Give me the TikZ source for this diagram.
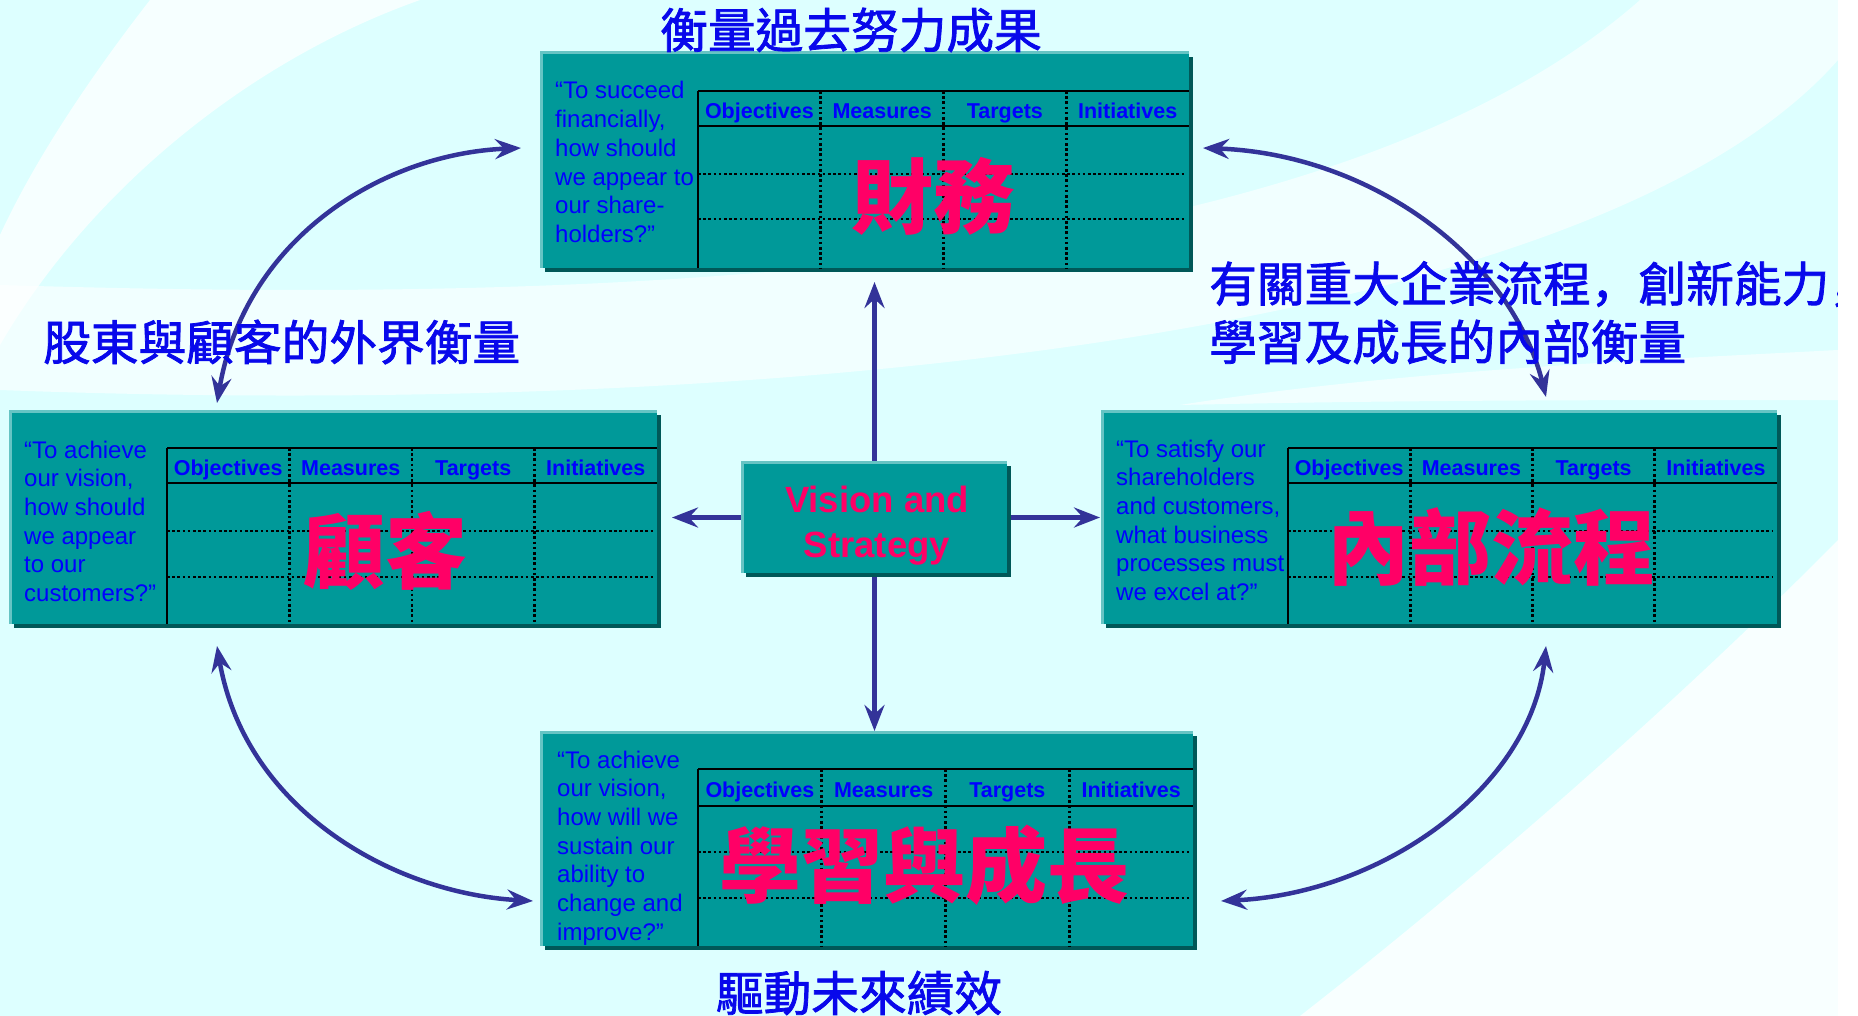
\documentclass[tikz,border=0pt]{standalone}
\usepackage{fontspec}
\setmainfont{Liberation Sans}
\newfontfamily\cjk{Noto Sans CJK TC}
\newfontfamily\cjkt{Noto Sans CJK TC}[FakeBold=1.6]
\newfontfamily\cjksc{Noto Sans CJK SC}[FakeBold=1.6]
\usetikzlibrary{arrows.meta}
\definecolor{bgc}{RGB}{221,255,255}
\definecolor{panelc}{RGB}{0,153,153}
\definecolor{panellight}{RGB}{102,196,196}
\definecolor{paneldark}{RGB}{0,88,88}
\definecolor{qblue}{RGB}{0,0,255}
\definecolor{tblue}{RGB}{8,8,235}
\definecolor{hred}{RGB}{255,0,102}
\definecolor{arrc}{RGB}{51,51,153}
\tikzset{
  panel/.style={fill=panelc, inner sep=0pt, outer sep=0pt, anchor=north west},
  tabline/.style={draw=black, line width=2.8pt},
  dotline/.style={draw=black, line width=2.6pt, dash pattern=on 2.6pt off 2.6pt},
  hdr/.style={font=\bfseries\fontsize{21.5}{24}\selectfont, text=qblue, inner sep=0pt, anchor=base},
  quotetext/.style={font=\fontsize{24}{28.7}\selectfont, text=qblue, inner sep=0pt, anchor=base west},
  bigred/.style={font=\cjk\bfseries\fontsize{82}{82}\selectfont, text=hred, inner sep=0pt},
  cjktitle/.style={font=\cjkt\fontsize{47.7}{47.7}\selectfont, text=tblue, inner sep=0pt},
  tipstyle/.tip={Stealth[length=26pt,width=20pt,inset=9pt]},
  sarrow/.style={draw=arrc, line width=4.5pt, -tipstyle},
  carrow/.style={draw=arrc, line width=4.5pt, tipstyle-tipstyle},
}
\newcommand\bscpanel[5]{% name, x, y, w, h
  \fill[paneldark] (#2+4,#3+4) rectangle ++(#4,#5);
  \node[panel, minimum width=#4pt, minimum height=#5pt] (#1) at (#2,#3) {};
  \draw[panellight, line width=3pt] (#1.south west) -- (#1.north west) -- (#1.north east);
}
\newcommand\bsctable[8]{% prefix, L, R, top, hdrbot, bottom, dot1, dot2
  \pgfmathsetmacro\colw{(#3-#2)/4}
  \foreach \k in {1,2,3} \draw[dotline] ({#2+\k*\colw},#4) -- ({#2+\k*\colw},#6);
  \draw[dotline] (#2,#7) -- (#3-4,#7);
  \draw[dotline] (#2,#8) -- (#3-4,#8);
  \draw[tabline] (#2,#4) -- (#3,#4);
  \draw[tabline] (#2,#5) -- (#3,#5);
  \draw[tabline] (#2,#4) -- (#2,#6);
  \foreach \t [count=\k from 0] in {Objectives,Measures,Targets,Initiatives}
    \node[hdr] (#1-h\k) at ({#2+(\k+0.5)*\colw},{(#4+#5)/2+10}) {\t};
}
\begin{document}
\begin{tikzpicture}[x=1pt,y=-1pt]
\useasboundingbox (0,0) rectangle (1858,1016);
% background
\fill[bgc] (0,0) rectangle (1838,1016);
\fill[white, opacity=.75] (150,0) .. controls (80,90) and (30,170) .. (0,235) -- (0,345) .. controls (90,190) and (250,60) .. (420,0) -- cycle;
\fill[white, opacity=.6] (0,285) .. controls (500,300) and (1300,300) .. (1640,0) -- (1838,0) -- (1838,60) .. controls (1600,330) and (800,420) .. (0,390) -- cycle;
\fill[white, opacity=.6] (1180,405) .. controls (1400,370) and (1650,360) .. (1838,350) -- (1838,400) .. controls (1600,400) and (1400,400) .. (1180,405) -- cycle;
\fill[white, opacity=.8] (1300,1016) .. controls (1500,860) and (1700,680) .. (1838,540) -- (1838,1016) -- cycle;

% curved connectors
\coordinate (tlA) at (521,148);
\coordinate (tlB) at (217,403);
\coordinate (trA) at (1203,148);
\coordinate (trB) at (1546,397);
\coordinate (blA) at (217,646);
\coordinate (blB) at (533,901);
\coordinate (brA) at (1546,646);
\coordinate (brB) at (1221,901);
\draw[carrow] (tlA) .. controls (380,154) and (245,240) .. (tlB);
\draw[carrow] (trA) .. controls (1370,154) and (1511,257) .. (trB);
\draw[carrow] (blA) .. controls (245,809) and (392,893) .. (blB);
\draw[carrow] (brA) .. controls (1531,786) and (1385,893) .. (brB);

% panels
\bscpanel{fin}{541}{53}{648}{215}
\bscpanel{cust}{10}{411}{647}{213}
\bscpanel{proc}{1102}{411}{675}{213}
\bscpanel{learn}{541}{732}{652}{214}

% straight connectors
\draw[sarrow, shorten >=14pt] (874.5,462) coordinate (visN) -- (visN |- fin.south);
\draw[sarrow, shorten >=1pt] (874.5,573) coordinate (visS) -- (visS |- learn.north);
\draw[sarrow, shorten >=15pt] (742,517.5) coordinate (visW) -- (visW -| cust.east);
\draw[sarrow, shorten >=2pt] (1007,517.5) coordinate (visE) -- (visE -| proc.west);
\bscpanel{vis}{742}{462}{265}{111}
\node[font=\bfseries\fontsize{36.5}{45}\selectfont, text=hred, align=center, inner sep=0pt] (vis-t) at (877,526) {Vision and\\Strategy};

% tables
\bsctable{fin}{698}{1189}{91}{126}{268}{174}{219}
\bsctable{cust}{167}{657}{448}{483}{624}{531}{577}
\bsctable{proc}{1288}{1777}{448}{483}{624}{531}{577}
\bsctable{learn}{698}{1193}{769}{806}{946}{852}{898}

% quotes
\node[quotetext] (fin-q) at (555,99) {\vtop{\hbox{“To succeed}\hbox{financially,}\hbox{how should}\hbox{we appear to}\hbox{our share-}\hbox{holders?”}}};
\node[quotetext] (cust-q) at (24,458) {\vtop{\hbox{“To achieve}\hbox{our vision,}\hbox{how should}\hbox{we appear}\hbox{to our}\hbox{customers?”}}};
\node[quotetext] (proc-q) at (1116,457) {\vtop{\hbox{“To satisfy our}\hbox{shareholders}\hbox{and customers,}\hbox{what business}\hbox{processes must}\hbox{we excel at?”}}};
\node[quotetext] (learn-q) at (557,768) {\vtop{\hbox{“To achieve}\hbox{our vision,}\hbox{how will we}\hbox{sustain our}\hbox{ability to}\hbox{change and}\hbox{improve?”}}};

% big red labels
\node[bigred] (fin-r) at (933,196) {財務};
\node[bigred] (cust-r) at (385,551) {顧客};
\node[bigred] (proc-r) at (1491,547) {內部流程};
\node[bigred] (learn-r) at (924,865) {學習與成長};

% titles
\node[cjktitle] (t-top) at (851,30) {衡量過去努力成果};
\node[cjktitle, anchor=west] (t-left) at (43,342) {股東與顧客的外界衡量};
\node[cjktitle, anchor=west] (t-right1) at (1209,284) {有關重大企業流程{\cjksc ，}創新能力{\cjksc ，}};
\node[cjktitle, anchor=west] (t-right2) at (1209,342) {學習及成長的內部衡量};
\node[cjktitle] (t-bot) at (859,993) {驅動未來績效};

\fill[white] (1838,0) rectangle (1858,1016);
\end{tikzpicture}
\end{document}
